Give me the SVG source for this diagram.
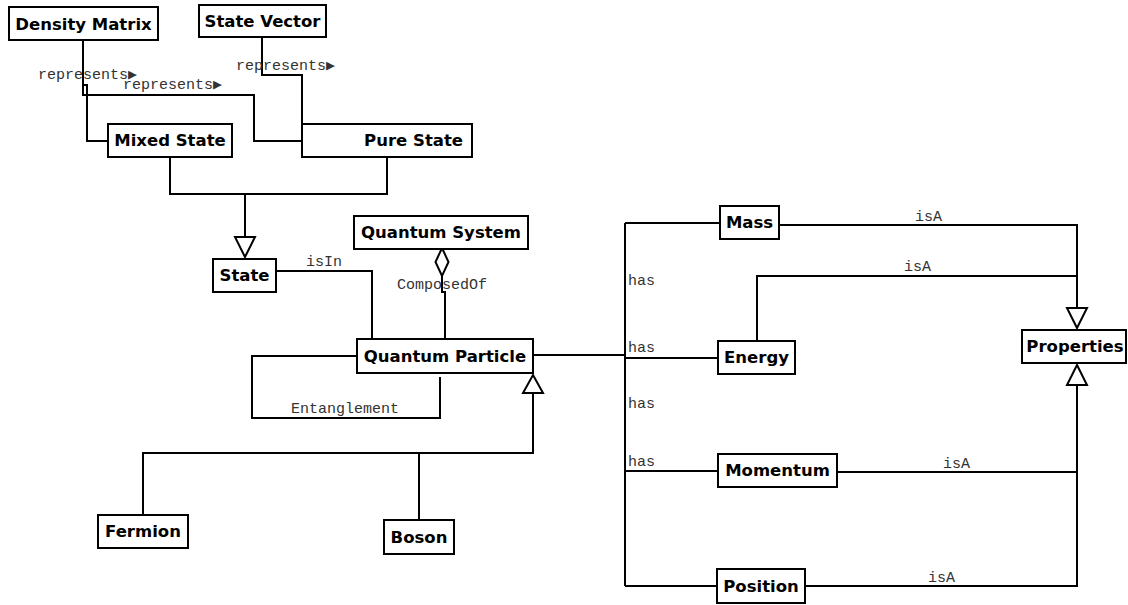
<svg xmlns="http://www.w3.org/2000/svg" width="1128" height="605" viewBox="0 0 1128 605">
<style>
.box{fill:#fff;stroke:#000;stroke-width:2}
.nt{font-family:"DejaVu Sans",Verdana,sans-serif;font-weight:bold;font-size:16.5px;fill:#000;text-anchor:middle}
.ln{fill:none;stroke:#000;stroke-width:2}
.head{fill:#fff;stroke:#000;stroke-width:2}
.el{font-family:"Liberation Mono","DejaVu Sans Mono",monospace;font-size:15px;fill:#333}
</style>
<rect width="1128" height="605" fill="#fff"/>
<g id="connectors">
<path class="ln" d="M83,40 V95 H254 V141 H302"/>
<path class="ln" d="M83,40 V85 H87 V141 H108"/>
<path class="ln" d="M262,37 V75 H302 V124"/>
<path class="ln" d="M170,157 V194 H387 V157"/>
<path class="ln" d="M245,194 V237"/>
<polygon class="head" points="235,237 255,237 245,257"/>
<path class="ln" d="M276,271 H372 V339"/>
<path class="ln" d="M442,276 V292 H445 V339"/>
<polygon class="head" points="442,248 448.5,262 442,276 435.5,262"/>
<path class="ln" d="M357,356 H252 V418 H440 V377"/>
<path class="ln" d="M533,393 V453 H143 V515"/>
<path class="ln" d="M419,453 V520"/>
<polygon class="head" points="533,375 543,393 523,393"/>
<path class="ln" d="M533,355 H625"/>
<path class="ln" d="M625,223 V586"/>
<path class="ln" d="M625,223 H720"/>
<path class="ln" d="M625,358 H718"/>
<path class="ln" d="M625,471 H718"/>
<path class="ln" d="M625,586 H717"/>
<path class="ln" d="M779,225 H1077 V308"/>
<path class="ln" d="M757,341 V276 H1077"/>
<polygon class="head" points="1067,308 1087,308 1077,328"/>
<path class="ln" d="M837,472 H1077 V385"/>
<path class="ln" d="M805,586 H1077 V472"/>
<polygon class="head" points="1077,365 1087,385 1067,385"/>
<text class="el" x="38" y="79">represents▶</text>
<text class="el" x="123" y="89">represents▶</text>
<text class="el" x="236" y="70">represents▶</text>
<text class="el" x="306" y="266">isIn</text>
<text class="el" x="397" y="289">ComposedOf</text>
<text class="el" x="291" y="413">Entanglement</text>
<text class="el" x="628" y="285">has</text>
<text class="el" x="628" y="352">has</text>
<text class="el" x="628" y="408">has</text>
<text class="el" x="628" y="466">has</text>
<text class="el" x="915" y="221">isA</text>
<text class="el" x="904" y="271">isA</text>
<text class="el" x="943" y="468">isA</text>
<text class="el" x="928" y="582">isA</text>
</g>
<g id="density-matrix"><rect class="box" x="9" y="7" width="149" height="33"/><text class="nt" x="83.5" y="29.5">Density Matrix</text></g>
<g id="state-vector"><rect class="box" x="199" y="5" width="127" height="32"/><text class="nt" x="262.5" y="27">State Vector</text></g>
<g id="mixed-state"><rect class="box" x="108" y="124" width="124" height="33"/><text class="nt" x="170" y="146">Mixed State</text></g>
<g id="pure-state"><rect class="box" x="302" y="124" width="170" height="33"/><text class="nt" x="463" y="146" style="text-anchor:end">Pure State</text></g>
<g id="state"><rect class="box" x="213" y="259" width="63" height="33"/><text class="nt" x="244.5" y="281">State</text></g>
<g id="quantum-system"><rect class="box" x="354" y="216" width="174" height="33"/><text class="nt" x="441" y="238">Quantum System</text></g>
<g id="quantum-particle"><rect class="box" x="357" y="339" width="176" height="34"/><text class="nt" x="445" y="362">Quantum Particle</text></g>
<g id="fermion"><rect class="box" x="98" y="515" width="90" height="33"/><text class="nt" x="143" y="537">Fermion</text></g>
<g id="boson"><rect class="box" x="384" y="520" width="70" height="34"/><text class="nt" x="419" y="543">Boson</text></g>
<g id="mass"><rect class="box" x="720" y="206" width="59" height="33"/><text class="nt" x="749.5" y="228">Mass</text></g>
<g id="energy"><rect class="box" x="718" y="341" width="77" height="33"/><text class="nt" x="756.5" y="363">Energy</text></g>
<g id="momentum"><rect class="box" x="718" y="454" width="119" height="33"/><text class="nt" x="777.5" y="476">Momentum</text></g>
<g id="position"><rect class="box" x="717" y="569" width="88" height="34"/><text class="nt" x="761" y="592">Position</text></g>
<g id="properties"><rect class="box" x="1022" y="330" width="104" height="33"/><text class="nt" x="1075" y="352">Properties</text></g>
</svg>
